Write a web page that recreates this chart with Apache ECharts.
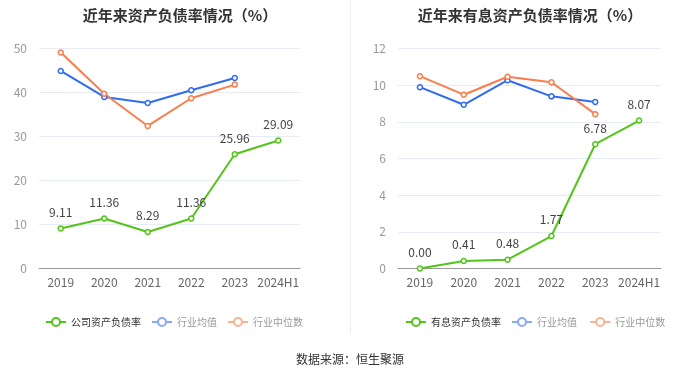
<!DOCTYPE html>
<html><head><meta charset="utf-8">
<script src="https://cdn.jsdelivr.net/npm/echarts@6/dist/echarts.min.js"></script>
<style>html,body{margin:0;padding:0;background:#fff}#c{width:700px;height:378px}</style>
</head><body><div id="c"></div>
<script>
var categories = ['2019','2020','2021','2022','2023','2024H1'];
var companyDebt = [9.11, 11.36, 8.29, 11.36, 25.96, 29.09];
var industryAvg = [44.9, 39.0, 37.6, 40.5, 43.3, null];
var industryMedian = [49.1, 39.7, 32.4, 38.7, 41.8, null];
var interestDebt = [0.00, 0.41, 0.48, 1.77, 6.78, 8.07];
var interestAvg = [9.89, 8.93, 10.27, 9.39, 9.08, null];
var interestMedian = [10.49, 9.48, 10.46, 10.16, 8.42, null];
var leftTicks = {min:0, max:50, interval:10};
var rightTicks = {min:0, max:12, interval:2};

var GREEN='#52c41a', BLUE='#2f6cf0', ORANGE='#fb7d4b';
var font = '"Noto Sans CJK SC", "Noto Sans", sans-serif';
function xAx(i){return {type:'category',gridIndex:i,data:categories,boundaryGap:true,
  axisLine:{lineStyle:{color:'#999'}},axisTick:{show:false},
  axisLabel:{color:'#666',fontSize:12,margin:8,interval:0,fontFamily:font}};}
function yAx(i,t){return {type:'value',gridIndex:i,min:t.min,max:t.max,interval:t.interval,
  axisLine:{show:false},axisTick:{show:false},
  axisLabel:{color:'#999',fontSize:12,margin:12,fontFamily:font},
  splitLine:{lineStyle:{color:'#e6ebf5'}}};}
function ser(name,data,color,i,lab){return {name:name,type:'line',xAxisIndex:i,yAxisIndex:i,data:data,
  symbol:'circle',symbolSize:5,showSymbol:true,
  itemStyle:{color:'#fff',borderColor:color,borderWidth:1.5},
  lineStyle:{color:color,width:2},
  label:{show:!!lab,position:'top',color:'#444',fontSize:12,distance:7,fontFamily:font,
    formatter:function(p){return p.value.toFixed(2);}},
  z: lab?3:2};}
function li(name,color,active){return {name:name,
  itemStyle:{color:'#fff',borderColor:color,borderWidth:2},
  lineStyle:{color:color,width:2},
  textStyle:{color:active?'#333':'#999'}};}
function leg(left,names){return {left:left,top:317,padding:0,width:320,itemWidth:20,itemHeight:10,itemGap:10,
  textStyle:{fontSize:10,fontFamily:font,padding:[0,0,0,0]},
  data:[li(names[0],GREEN,true),li(names[1],'#8aa9f5',false),li(names[2],'#fbb394',false)]};}
var option = {
  animation:false,
  title:[
    {text:'近年来资产负债率情况（%）',left:175,top:3,textAlign:'center',textStyle:{fontSize:15,fontWeight:'bold',color:'#333',fontFamily:font}},
    {text:'近年来有息资产负债率情况（%）',left:525,top:3,textAlign:'center',textStyle:{fontSize:15,fontWeight:'bold',color:'#333',fontFamily:font}}
  ],
  legend:[
    leg(45,['公司资产负债率','行业均值','行业中位数']),
    leg(405,['有息资产负债率','行业均值 ','行业中位数 '])
  ],
  grid:[
    {left:39,right:400,top:48.5,bottom:109.5},
    {left:398,right:39,top:48.5,bottom:109.5}
  ],
  xAxis:[xAx(0),xAx(1)],
  yAxis:[yAx(0,leftTicks),yAx(1,rightTicks)],
  graphic:[
    {type:'line',shape:{x1:350.5,y1:0,x2:350.5,y2:334},style:{stroke:'#eeeeee',lineWidth:1}},
    {type:'text',left:'center',top:353,style:{text:'数据来源：恒生聚源',fill:'#333',fontSize:12,fontFamily:font}}
  ],
  series:[
    ser('行业均值',industryAvg,BLUE,0,false),
    ser('行业中位数',industryMedian,ORANGE,0,false),
    ser('公司资产负债率',companyDebt,GREEN,0,true),
    ser('行业均值 ',interestAvg,BLUE,1,false),
    ser('行业中位数 ',interestMedian,ORANGE,1,false),
    ser('有息资产负债率',interestDebt,GREEN,1,true)
  ]
};
var chart = echarts.init(document.getElementById('c'),null,{renderer:'canvas'});
chart.setOption(option);
</script></body></html>
